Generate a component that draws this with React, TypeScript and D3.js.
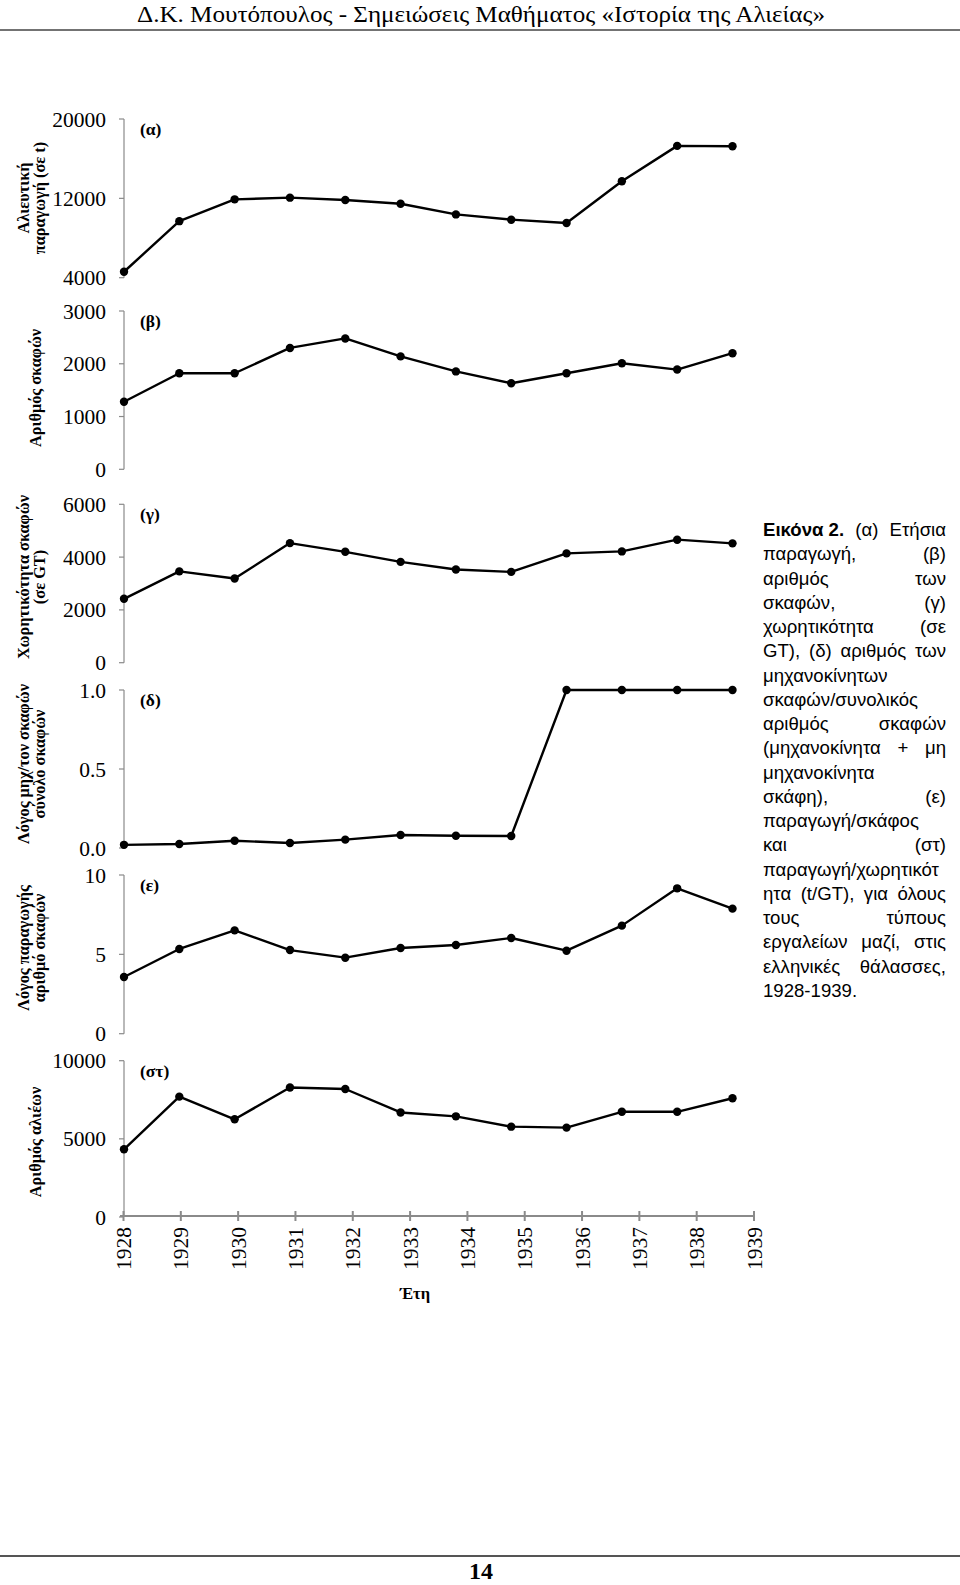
import React, { useMemo } from 'react';
import * as d3 from 'd3';

// ---------- DATA ----------
const years = [1928, 1929, 1930, 1931, 1932, 1933, 1934, 1935, 1936, 1937, 1938, 1939];
const production = [4600, 9700, 11900, 12070, 11830, 11460, 10380, 9850, 9510, 13720, 17290, 17260];
const vessels = [1280, 1820, 1820, 2300, 2480, 2140, 1855, 1630, 1820, 2010, 1890, 2200];
const tonnage = [2420, 3460, 3190, 4530, 4200, 3820, 3530, 3440, 4140, 4215, 4660, 4520];
const motorRatio = [0.02, 0.025, 0.046, 0.032, 0.053, 0.082, 0.078, 0.076, 1.0, 1.0, 1.0, 1.0];
const prodPerVessel = [3.57, 5.34, 6.51, 5.27, 4.79, 5.4, 5.59, 6.03, 5.23, 6.81, 9.16, 7.88];
const fishers = [4330, 7700, 6250, 8290, 8190, 6690, 6440, 5780, 5720, 6730, 6730, 7600];

const productionTicks = [4000, 12000, 20000];
const vesselTicks = [0, 1000, 2000, 3000];
const tonnageTicks = [0, 2000, 4000, 6000];
const ratioTicks = [0, 0.5, 1.0];
const perVesselTicks = [0, 5, 10];
const fisherTicks = [0, 5000, 10000];

const headerText = 'Δ.Κ. Μουτόπουλος - Σημειώσεις Μαθήματος «Ιστορία της Αλιείας»';
const xTitle = 'Έτη';
const pageNumber = '14';

const captionBold = 'Εικόνα 2.';
const captionLines = [
  'Εικόνα 2. (α) Ετήσια',
  'παραγωγή, (β)',
  'αριθμός των',
  'σκαφών, (γ)',
  'χωρητικότητα (σε',
  'GT), (δ) αριθμός των',
  'μηχανοκίνητων',
  'σκαφών/συνολικός',
  'αριθμός σκαφών',
  '(μηχανοκίνητα + μη',
  'μηχανοκίνητα',
  'σκάφη), (ε)',
  'παραγωγή/σκάφος',
  'και (στ)',
  'παραγωγή/χωρητικότ',
  'ητα (t/GT), για όλους',
  'τους τύπους',
  'εργαλείων μαζί, στις',
  'ελληνικές θάλασσες,',
  '1928-1939.',
];

// ---------- LAYOUT ----------
const W = 960;
const H = 1585;
const SERIF = '"Liberation Serif", "Times New Roman", serif';
const SANS = '"Liberation Sans", Arial, sans-serif';
const AXIS_X = 124;
const AXIS_COLOR = '#8a8a8a';

const xData = d3.scaleLinear().domain([1928, 1939]).range([124, 732.5]);
const xAxis = d3.scaleLinear().domain([1928, 1939]).range([123.5, 754]);
const X_AXIS_Y = 1216;

const fmtInt = (d: number) => d3.format('d')(d);
const fmt1 = (d: number) => d3.format('.1f')(d);

const panels = [
  { tag: '(α)', title: ['Αλιευτική', 'παραγωγή (σε t)'], values: production, domain: [4000, 20000], ticks: productionTicks, top: 119, bottom: 277.7, fmt: fmtInt, titleY: 198 },
  { tag: '(β)', title: ['Αριθμός σκαφών'], values: vessels, domain: [0, 3000], ticks: vesselTicks, top: 311, bottom: 469.3, fmt: fmtInt, titleY: 388 },
  { tag: '(γ)', title: ['Χωρητικότητα σκαφών', '(σε GT)'], values: tonnage, domain: [0, 6000], ticks: tonnageTicks, top: 504.3, bottom: 662.7, fmt: fmtInt, titleY: 577 },
  { tag: '(δ)', title: ['Λόγος μηχ/τον σκαφών', 'σύνολο σκαφών'], values: motorRatio, domain: [0, 1], ticks: ratioTicks, top: 690, bottom: 848, fmt: fmt1, titleY: 764 },
  { tag: '(ε)', title: ['Λόγος παραγωγής', 'αριθμό σκαφών'], values: prodPerVessel, domain: [0, 10], ticks: perVesselTicks, top: 875, bottom: 1033.7, fmt: fmtInt, titleY: 948 },
  { tag: '(στ)', title: ['Αριθμός αλιέων'], values: fishers, domain: [0, 10000], ticks: fisherTicks, top: 1060.7, bottom: 1217, fmt: fmtInt, titleY: 1142 },
];

function measureFactory() {
  const canvas = document.createElement('canvas');
  const ctx = canvas.getContext('2d')!;
  return (text: string, bold: boolean, size: number) => {
    ctx.font = `${bold ? 'bold ' : ''}${size}px "Liberation Sans", Arial, sans-serif`;
    return ctx.measureText(text).width;
  };
}

const CAP_X = 763;
const CAP_W = 183;
const CAP_Y0 = 536;
const CAP_LH = 24.25;
const CAP_SIZE = 18.6;

function Caption() {
  const words = useMemo(() => {
    const measure = measureFactory();
    const out: { text: string; x: number; y: number; bold: boolean }[] = [];
    captionLines.forEach((line, li) => {
      const y = CAP_Y0 + li * CAP_LH;
      let tokens: { text: string; bold: boolean }[] = [];
      if (li === 0) {
        tokens.push({ text: captionBold, bold: true });
        line.slice(captionBold.length).trim().split(' ').forEach(t => tokens.push({ text: t, bold: false }));
      } else {
        tokens = line.split(' ').map(t => ({ text: t, bold: false }));
      }
      const widths = tokens.map(t => measure(t.text, t.bold, CAP_SIZE));
      const sum = d3.sum(widths);
      const last = li === captionLines.length - 1;
      const space = measure(' ', false, CAP_SIZE);
      const gap = tokens.length > 1 && !last ? Math.max(3, (CAP_W - sum) / (tokens.length - 1)) : space;
      let x = CAP_X;
      tokens.forEach((t, i) => {
        out.push({ text: t.text, x, y, bold: t.bold });
        x += widths[i] + gap;
      });
    });
    return out;
  }, []);
  return (
    <g fontFamily={SANS} fontSize={CAP_SIZE} fill="#000">
      {words.map((w, i) => (
        <text key={i} x={w.x} y={w.y} fontWeight={w.bold ? 'bold' : 'normal'}>{w.text}</text>
      ))}
    </g>
  );
}

export default function App() {
  return (
    <svg width={W} height={H} viewBox={`0 0 ${W} ${H}`} style={{ position: 'absolute', left: 0, top: 0, display: 'block', background: '#fff' }}>
      <rect x={0} y={0} width={W} height={H} fill="#fff" />
      {/* header */}
      <text x={481} y={22} textAnchor="middle" fontFamily={SERIF} fontSize={23} textLength={688} lengthAdjust="spacingAndGlyphs" fill="#000">{headerText}</text>
      <line x1={0} x2={W} y1={30} y2={30} stroke="#444" strokeWidth={1.6} />

      {panels.map((p, pi) => {
        const y = d3.scaleLinear().domain(p.domain).range([p.bottom, p.top]);
        const line = d3.line<number>().x((_, i) => xData(years[i])).y(v => y(v));
        return (
          <g key={pi}>
            <line x1={AXIS_X} x2={AXIS_X} y1={p.top} y2={p.bottom} stroke={AXIS_COLOR} strokeWidth={1.2} />
            {p.ticks.map(t => (
              <g key={t}>
                <line x1={AXIS_X - 5} x2={AXIS_X} y1={y(t)} y2={y(t)} stroke={AXIS_COLOR} strokeWidth={1.2} />
                <text x={106} y={y(t)} dy="0.35em" textAnchor="end" fontFamily={SERIF} fontSize={21.5} fill="#000">{p.fmt(t)}</text>
              </g>
            ))}
            <text x={140} y={p.top + 16} fontFamily={SERIF} fontSize={17.5} fontWeight="bold" fill="#000">{p.tag}</text>
            {p.title.map((t, ti) => {
              const tx = p.title.length === 1 ? 41 : (ti === 0 ? 29 : 45);
              return (
                <text key={ti} transform={`translate(${tx},${p.titleY}) rotate(-90)`} textAnchor="middle" fontFamily={SERIF} fontSize={16.3} fontWeight="bold" fill="#000">{t}</text>
              );
            })}
            <path d={line(p.values) || ''} fill="none" stroke="#000" strokeWidth={2.4} strokeLinejoin="round" />
            {p.values.map((v, i) => (
              <circle key={i} cx={xData(years[i])} cy={y(v)} r={4.2} fill="#000" />
            ))}
          </g>
        );
      })}

      {/* x axis */}
      <line x1={120} x2={xAxis(1939)} y1={X_AXIS_Y} y2={X_AXIS_Y} stroke={AXIS_COLOR} strokeWidth={2} />
      {years.map(yr => (
        <g key={yr}>
          <line x1={xAxis(yr)} x2={xAxis(yr)} y1={X_AXIS_Y - 5} y2={X_AXIS_Y + 5} stroke={AXIS_COLOR} strokeWidth={2} />
          <text transform={`translate(${xAxis(yr)},${1227}) rotate(-90)`} dy="0.35em" textAnchor="end" fontFamily={SERIF} fontSize={21.5} fill="#000">{yr}</text>
        </g>
      ))}
      <text x={415} y={1299} textAnchor="middle" fontFamily={SERIF} fontSize={16.5} fontWeight="bold" fill="#000">{xTitle}</text>

      <Caption />

      {/* footer */}
      <line x1={0} x2={W} y1={1556} y2={1556} stroke="#555" strokeWidth={2} />
      <text x={481} y={1579} textAnchor="middle" fontFamily={SERIF} fontSize={23} fontWeight="bold" textLength={24} lengthAdjust="spacingAndGlyphs" fill="#000">{pageNumber}</text>
    </svg>
  );
}
